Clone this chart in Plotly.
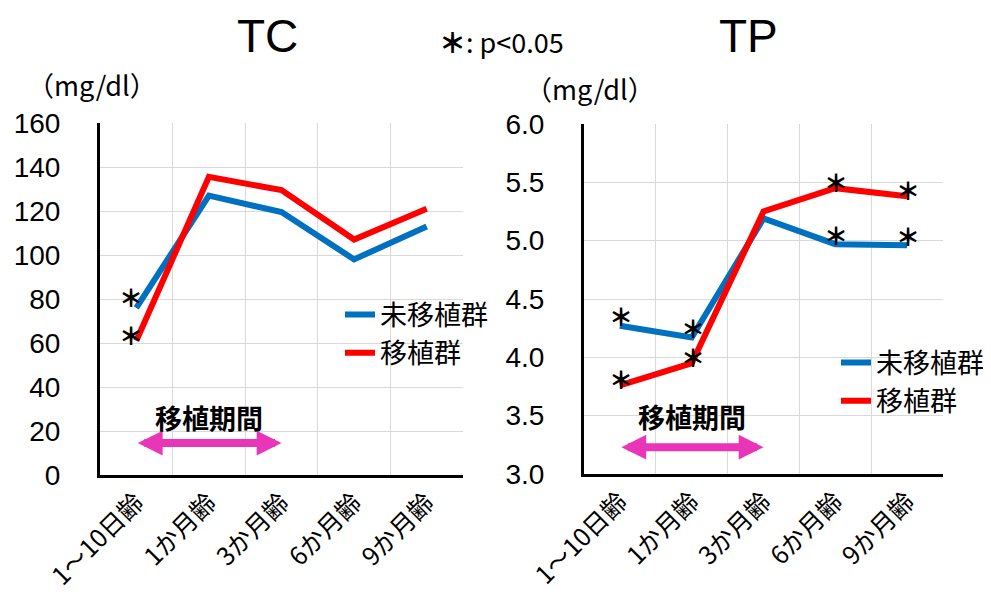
import plotly.graph_objects as go

# ---- data ----
categories = ["1～10日齢", "1か月齢", "3か月齢", "6か月齢", "9か月齢"]
series_names = ["未移植群", "移植群"]
tc_untransplanted = [76, 127, 119.5, 98, 113]
tc_transplanted = [61, 135.5, 129.5, 107, 121]
tp_untransplanted = [4.27, 4.17, 5.19, 4.97, 4.96]
tp_transplanted = [3.76, 3.95, 5.25, 5.45, 5.38]
# indexes with significant difference (p<0.05)
tc_sig_untransplanted = [0]
tc_sig_transplanted = [0]
tp_sig_untransplanted = [0, 1, 3, 4]
tp_sig_transplanted = [0, 1, 3, 4]
tc_yticks = [0, 20, 40, 60, 80, 100, 120, 140, 160]
tp_yticks = [3.0, 3.5, 4.0, 4.5, 5.0, 5.5, 6.0]
tp_yticklabels = ["3.0", "3.5", "4.0", "4.5", "5.0", "5.5", "6.0"]
period_start, period_end = 0, 2  # 移植期間: category index range

BLUE = "#0070C0"
RED = "#FF0000"
PINK = "#E936B8"
GRID = "#D9D9D9"
JP = "Noto Sans CJK JP"
LAT = "Liberation Sans, Arial"

# page body has an 8px default margin; size the figure to fit the window
OFF = 8
W, H = 991 - OFF, 599 - OFF


def px(x):
    return (x - OFF) / W


def py(y):
    return 1 - (y - OFF) / H


fig = go.Figure()


def add_series(xa, ya, y_vals, name, color, legend):
    fig.add_trace(go.Scatter(
        x=categories, y=y_vals, name=name, mode="lines",
        line=dict(color=color, width=6), xaxis=xa, yaxis=ya, legend=legend,
    ))


add_series("x", "y", tc_untransplanted, series_names[0], BLUE, "legend")
add_series("x", "y", tc_transplanted, series_names[1], RED, "legend")
add_series("x2", "y2", tp_untransplanted, series_names[0], BLUE, "legend2")
add_series("x2", "y2", tp_transplanted, series_names[1], RED, "legend2")

annotations = []
STAR_FONT = dict(family=JP, size=24, color="black", weight=900)


def add_stars(xref, yref, vals, sig, yshift, xshift):
    for i in sig:
        annotations.append(dict(
            x=categories[i], y=vals[i], xref=xref, yref=yref, text="＊",
            showarrow=False, font=STAR_FONT,
            yshift=yshift, xshift=xshift, xanchor="center", yanchor="middle",
        ))


add_stars("x", "y", tc_untransplanted, tc_sig_untransplanted, 11, -5)
add_stars("x", "y", tc_transplanted, tc_sig_transplanted, 6, -5)
add_stars("x2", "y2", tp_untransplanted, tp_sig_untransplanted, 10, 1)
add_stars("x2", "y2", tp_transplanted, tp_sig_transplanted, 7, 1)

# transplant period arrows + labels
for xref, yref, ay, ty in [("x", "y", 14.5, 26), ("x2", "y2", 3.23, 3.49)]:
    annotations.append(dict(
        x=period_end, y=ay, ax=period_start, ay=ay, xref=xref, yref=yref,
        axref=xref, ayref=yref, text="", showarrow=True, arrowhead=2,
        startarrowhead=2, arrowside="end+start", arrowwidth=8, arrowsize=0.62,
        startarrowsize=0.62, arrowcolor=PINK,
    ))
    annotations.append(dict(
        x=(period_start + period_end) / 2, y=ty, xref=xref, yref=yref,
        text="<b>移植期間</b>", showarrow=False, xanchor="center", yanchor="middle",
        font=dict(family=JP, size=27, color="black"),
    ))

# titles and units
annotations += [
    dict(x=px(267), y=py(36), xref="paper", yref="paper", text="TC",
         xanchor="center", yanchor="middle",
         showarrow=False, font=dict(family=LAT, size=46, color="black")),
    dict(x=px(748), y=py(36), xref="paper", yref="paper", text="TP",
         xanchor="center", yanchor="middle",
         showarrow=False, font=dict(family=LAT, size=46, color="black")),
    dict(x=px(502), y=py(41), xref="paper", yref="paper",
         text="<span style='font-weight:900'>＊</span>: p&lt;0.05",
         xanchor="center", yanchor="middle",
         showarrow=False, font=dict(family=JP, size=27, color="black")),
    dict(x=px(92), y=py(84), xref="paper", yref="paper", text="（mg/dl）",
         xanchor="center", yanchor="middle",
         showarrow=False, font=dict(family=JP, size=27, color="black")),
    dict(x=px(590), y=py(88), xref="paper", yref="paper", text="（mg/dl）",
         xanchor="center", yanchor="middle",
         showarrow=False, font=dict(family=JP, size=27, color="black")),
]

xcommon = dict(
    type="category", tickson="boundaries", showgrid=True, gridcolor=GRID, gridwidth=1,
    showline=True, linecolor="black", linewidth=3, ticks="", tickangle=-45,
    tickfont=dict(family=JP, size=25, color="black"), range=[-0.5, 4.5],
    automargin=False, ticklabelstandoff=0, fixedrange=True,
)
ycommon = dict(
    showgrid=True, gridcolor=GRID, gridwidth=1, showline=True, linecolor="black",
    linewidth=3, ticks="", zeroline=False, automargin=False,
    tickfont=dict(family=LAT, size=28, color="black"), ticklabelstandoff=31,
)

legend_font = dict(family=JP, size=27, color="black")

fig.update_layout(
    width=W, height=H, margin=dict(l=0, r=0, t=0, b=0),
    paper_bgcolor="white", plot_bgcolor="white",
    xaxis=dict(domain=[px(100), px(463)], anchor="y", **xcommon),
    yaxis=dict(domain=[py(475), py(123)], anchor="x", range=[0, 160],
               tickvals=tc_yticks, **ycommon),
    xaxis2=dict(domain=[px(584), px(943)], anchor="y2", **xcommon),
    yaxis2=dict(domain=[py(474), py(124)], anchor="x2", range=[3.0, 6.0],
                tickvals=tp_yticks, ticktext=tp_yticklabels, **ycommon),
    legend=dict(x=px(340), y=py(334), xanchor="left", yanchor="middle",
                font=legend_font, bgcolor="rgba(0,0,0,0)",
                itemwidth=30, tracegroupgap=0),
    legend2=dict(x=px(836), y=py(382), xanchor="left", yanchor="middle",
                 font=legend_font, bgcolor="rgba(0,0,0,0)",
                 itemwidth=30, tracegroupgap=0),
    annotations=annotations,
    showlegend=True,
)

fig.write_html("out.html")
